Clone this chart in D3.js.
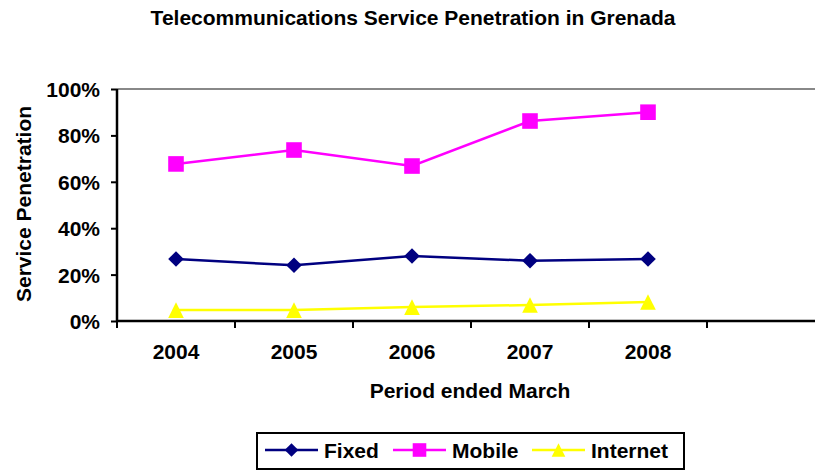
<!DOCTYPE html>
<html lang="en">
<head>
<meta charset="UTF-8">
<title>Telecommunications Service Penetration in Grenada</title>
<style>
  body { margin: 0; background: #fff; }
  text { font-family: "Liberation Sans", Arial, sans-serif; font-weight: bold; fill: #000; }
</style>
</head>
<body>
<div id="container"></div>
<script src="https://d3js.org/d3.v7.min.js"></script>
<script>
var years = ["2004", "2005", "2006", "2007", "2008", ""];
var fixed = [26.7, 24.0, 28.0, 26.0, 26.7];
var mobile = [67.7, 73.7, 66.8, 86.2, 90.0];
var internet = [4.7, 4.7, 6.0, 6.9, 8.2];
var yTicks = [0, 20, 40, 60, 80, 100];

// marker shapes, r = half size in px
function diamond(r) { return "M0," + (-r) + "L" + r + ",0L0," + r + "L" + (-r) + ",0Z"; }
function square(r) { return "M" + (-r) + "," + (-r) + "H" + r + "V" + r + "H" + (-r) + "Z"; }
function triangle(r) { return "M0," + (-r) + "L" + r + "," + r + "H" + (-r) + "Z"; }

var series = [
  { name: "Fixed", values: fixed, color: "#000080", shape: diamond },
  { name: "Mobile", values: mobile, color: "#FF00FF", shape: square },
  { name: "Internet", values: internet, color: "#FFFF00", shape: triangle }
];

var width = 815, height = 473;
var mLeft = 117, mRight = 825, mTop = 89, mBottom = 321;
var fs = "21px";

var svg = d3.select("#container").append("svg")
  .attr("width", width)
  .attr("height", height);

var x = d3.scaleBand().domain(years).range([mLeft, mRight]);
var y = d3.scaleLinear().domain([0, 100]).range([mBottom, mTop]);

// title
svg.append("text")
  .attr("x", 413).attr("y", 25)
  .attr("text-anchor", "middle")
  .style("font-size", fs)
  .text("Telecommunications Service Penetration in Grenada");

// top grid line
svg.append("line")
  .attr("x1", mLeft).attr("x2", width)
  .attr("y1", y(100)).attr("y2", y(100))
  .attr("stroke", "#888").attr("stroke-width", 2);

// y axis
var yAxis = svg.append("g")
  .attr("transform", "translate(" + mLeft + ",0)")
  .call(d3.axisLeft(y).tickValues(yTicks).tickSize(6).tickPadding(11)
    .tickFormat(function(d) { return d + "%"; }));
yAxis.selectAll("text").style("font-size", fs).attr("dy", "0.36em");
yAxis.selectAll(".tick line").attr("stroke-width", 2);

// x axis
var xAxis = svg.append("g")
  .attr("transform", "translate(0," + mBottom + ")")
  .call(d3.axisBottom(x).tickSize(0).tickPadding(0));
xAxis.selectAll("text").style("font-size", fs).attr("y", 38).attr("dy", 0);
xAxis.selectAll(".tick line").remove();
xAxis.selectAll(".xt").data(years).enter().append("line")
  .attr("x1", function(d) { return x(d); })
  .attr("x2", function(d) { return x(d); })
  .attr("y1", 0).attr("y2", 7)
  .attr("stroke", "#000").attr("stroke-width", 2);

svg.selectAll(".domain").attr("stroke", "#000").attr("stroke-width", 2.5);
yAxis.select(".domain").attr("d", "M0," + y(0) + "V" + y(100));
xAxis.select(".domain").attr("d", "M" + mLeft + ",0H" + width);

// axis titles
svg.append("text")
  .attr("transform", "translate(31,204) rotate(-90)")
  .attr("text-anchor", "middle")
  .style("font-size", fs)
  .text("Service Penetration");

svg.append("text")
  .attr("x", 470).attr("y", 398)
  .attr("text-anchor", "middle")
  .style("font-size", fs)
  .text("Period ended March");

// lines and markers
function cx(i) { return x(years[i]) + x.bandwidth() / 2; }

var line = d3.line()
  .x(function(d, i) { return cx(i); })
  .y(function(d) { return y(d); });

series.forEach(function(s) {
  svg.append("path")
    .datum(s.values)
    .attr("d", line)
    .attr("fill", "none")
    .attr("stroke", s.color)
    .attr("stroke-width", 2.5);

  svg.selectAll(null).data(s.values).enter().append("path")
    .attr("transform", function(d, i) { return "translate(" + cx(i) + "," + y(d) + ")"; })
    .attr("d", s.shape(7.8))
    .attr("fill", s.color);
});

// legend
var legend = svg.append("g");
legend.append("rect")
  .attr("x", 257).attr("y", 433)
  .attr("width", 427).attr("height", 36)
  .attr("fill", "#fff").attr("stroke", "#000").attr("stroke-width", 2);

var legX = [265, 393, 532];
series.forEach(function(s, i) {
  var g = legend.append("g").attr("transform", "translate(" + legX[i] + ",450)");
  g.append("line").attr("x1", 0).attr("x2", 53)
    .attr("stroke", s.color).attr("stroke-width", 2.5);
  g.append("path")
    .attr("transform", "translate(26.5,0)")
    .attr("d", s.shape(6.8))
    .attr("fill", s.color);
  g.append("text").attr("x", 59).attr("y", 7.5)
    .style("font-size", fs)
    .text(s.name);
});
</script>
</body>
</html>
